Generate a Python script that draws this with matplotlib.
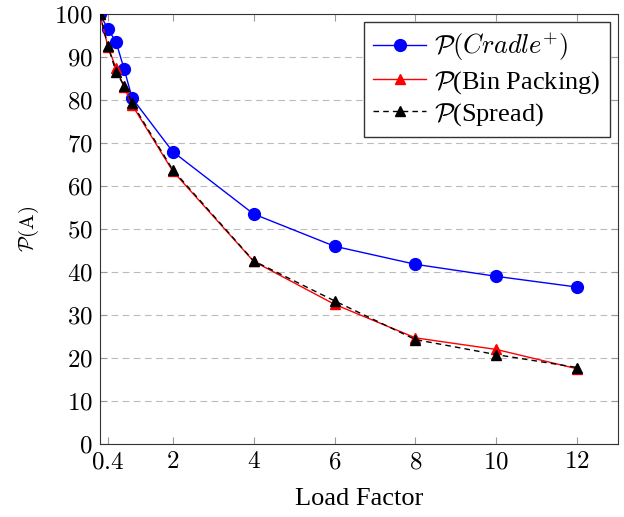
import matplotlib
matplotlib.use("Agg")
import matplotlib.pyplot as plt

# data
load = [0.2, 0.4, 0.6, 0.8, 1.0, 2, 4, 6, 8, 10, 12]
cradle = [100, 96.5, 93.5, 87.2, 80.4, 68.0, 53.5, 46.0, 41.8, 39.0, 36.5]
binpack = [100, 92.4, 87.4, 83.0, 78.8, 63.5, 42.5, 32.5, 24.7, 22.0, 17.5]
spread = [100, 92.5, 86.6, 83.3, 79.2, 63.8, 42.6, 33.3, 24.3, 20.8, 17.8]
xticks = [0.4, 2, 4, 6, 8, 10, 12]
yticks = list(range(0, 101, 10))

plt.rcParams['font.family'] = ['Liberation Serif', 'DejaVu Serif']
plt.rcParams['mathtext.fontset'] = 'cm'

fig = plt.figure(figsize=(6.24, 5.17), dpi=100)
ax = fig.add_axes([0.160, 0.141, 0.830, 0.832])

ax.plot(load, cradle, color='blue', marker='o', markersize=8.5, lw=1,
        label=r'$\mathcal{P}(\mathit{Cradle}^{+})$', zorder=3)
ax.plot(load, binpack, color='red', marker='^', markersize=7, lw=1,
        label=r'$\mathcal{P}$(Bin Packing)', zorder=3)
ax.plot(load, spread, color='black', marker='^', markersize=7, lw=1,
        ls=(0, (4, 3)), label=r'$\mathcal{P}$(Spread)', zorder=4)

ax.set_xlim(0.2, 13)
ax.set_ylim(0, 100)
ax.set_xticks(xticks)
ax.set_xticklabels(['$%g$' % t for t in xticks])
ax.set_yticks(yticks)
ax.set_yticklabels(['$%d$' % t for t in yticks])
ax.tick_params(direction='in', top=True, right=True, length=5,
               color='#999999', labelsize=18)
ax.tick_params(axis='x', pad=5)
ax.tick_params(axis='y', pad=5)
ax.yaxis.grid(True, ls=(0, (6, 4)), color='#bbbbbb', lw=0.8)
for s in ax.spines.values():
    s.set_color('#333333')

ax.set_xlabel('Load Factor', fontsize=19, labelpad=11)
ax.set_ylabel(r'$\mathcal{P}(\mathrm{A})$', fontsize=15, labelpad=10)

leg = ax.legend(loc='upper right', fontsize=19, fancybox=False,
                edgecolor='#333333', framealpha=1, handlelength=2.0,
                borderaxespad=0.3, labelspacing=0.2, handletextpad=0.3,
                borderpad=0.35)
leg.get_frame().set_linewidth(1)

fig.savefig('out.png', dpi=100)
